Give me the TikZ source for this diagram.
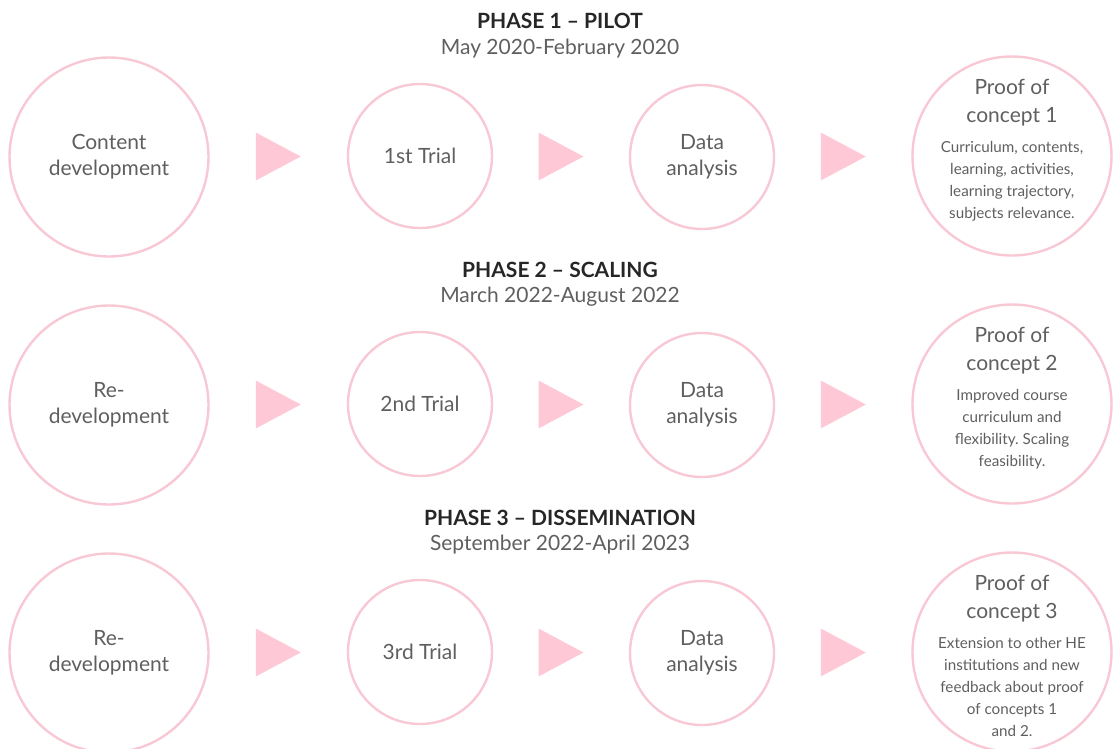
\documentclass[tikz,border=0pt]{standalone}
\usepackage{fontspec}
\setmainfont{Lato}
\frenchspacing
\usetikzlibrary{calc, positioning}
\definecolor{pinkline}{RGB}{248,200,212}
\definecolor{pinkfill}{RGB}{255,200,214}
\definecolor{textgray}{RGB}{95,95,95}
\definecolor{headgray}{RGB}{38,38,38}

\begin{document}
\begin{tikzpicture}[x=1pt,y=-1pt,
                    big node/.style={circle,draw=pinkline,line width=2.4pt,minimum size=199pt,inner sep=0pt,
                                     align=center,text=textgray,font=\fontsize{21}{26}\selectfont},
                    small node/.style={big node,minimum size=144pt},
                    title node/.style={align=center,inner sep=0pt,text=textgray,font=\fontsize{21}{28}\selectfont},
                    body node/.style={align=center,inner sep=0pt,text=textgray,font=\fontsize{15.2}{22}\selectfont},
                    phase node/.style={inner sep=0pt,text=headgray,font=\fontsize{21}{22}\selectfont\bfseries},
                    date node/.style={inner sep=0pt,text=textgray,font=\fontsize{21}{22}\selectfont},
                    tri/.style={fill=pinkfill}]

  \useasboundingbox (0,0) rectangle (1119,748);

  % phase 1
  \node[phase node] (h1) at (560,21) {PHASE 1 -- PILOT};
  \node[date node] (d1) at (560,49) {May 2020-February 2020};
  \node[big node] (a1) at (109,157) {Content\\development};
  \node[small node] (b1) at (420,156) {1st Trial};
  \node[small node] (c1) at (702,157) {Data\\analysis};
  \node[big node] (p1) at (1012,156) {};
  \node[title node] (q1) at ($(p1)+(0,-53)$) {Proof of\\concept 1};
  \node[body node,below=14pt of q1] (r1)
    {Curriculum, contents,\\learning, activities,\\learning trajectory,\\subjects relevance.};

  % phase 2
  \node[phase node] (h2) at (560,270) {PHASE 2 -- SCALING};
  \node[date node] (d2) at (560,297) {March 2022-August 2022};
  \node[big node] (a2) at (109,405) {Re-\\development};
  \node[small node] (b2) at (420,404) {2nd Trial};
  \node[small node] (c2) at (702,405) {Data\\analysis};
  \node[big node] (p2) at (1012,404) {};
  \node[title node] (q2) at ($(p2)+(0,-53)$) {Proof of\\concept 2};
  \node[body node,below=14pt of q2] (r2)
    {Improved course\\curriculum and\\flexibility. Scaling\\feasibility.};

  % phase 3
  \node[phase node] (h3) at (560,518) {PHASE 3 -- DISSEMINATION};
  \node[date node] (d3) at (560,545) {September 2022-April 2023};
  \node[big node] (a3) at (109,653) {Re-\\development};
  \node[small node] (b3) at (420,652) {3rd Trial};
  \node[small node] (c3) at (702,653) {Data\\analysis};
  \node[big node] (p3) at (1012,652) {};
  \node[title node] (q3) at ($(p3)+(0,-53)$) {Proof of\\concept 3};
  \node[body node,below=14pt of q3] (r3)
    {Extension to other HE\\institutions and new\\feedback about proof\\of concepts 1\\and 2.};

  % arrow heads between the circles
  \foreach \r in {1,2,3}{
    \foreach \u/\v in {a/b,b/c,c/p}{
      \coordinate (m\u\r) at ($(\u\r.east)!0.5!(\v\r.west)$);
      \fill[tri] ($(m\u\r)+(-22.5,-24)$) -- ++(45,24) -- ++(-45,24) -- cycle;
    }
  }
\end{tikzpicture}
\end{document}
